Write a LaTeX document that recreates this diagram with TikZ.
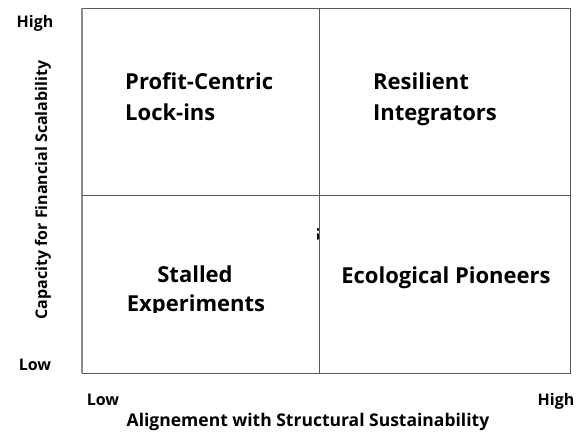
\documentclass[tikz,border=0pt]{standalone}
\usepackage{fontspec}
\setmainfont{Open Sans}[Ligatures=NoCommon]
\begin{document}
\begin{tikzpicture}[x=1pt,y=-1pt,
  quad/.style={font=\bfseries\fontsize{22}{31}\selectfont, inner sep=0pt},
  axlbl/.style={font=\bfseries\fontsize{16}{18}\selectfont, inner sep=0pt},
  axtitle/.style={font=\bfseries\fontsize{17.5}{20}\selectfont, inner sep=0pt},
  ytitle/.style={font=\bfseries\fontsize{16}{18}\selectfont, inner sep=0pt},
  gridline/.style={draw=black!65, line width=0.9pt}]
\useasboundingbox (0,0) rectangle (577,434);
% stray glyph partly hidden behind the vertical divider
\begin{scope}
\clip (317.2,220) rectangle (320.5,245);
\node[quad, anchor=base east] (st) at (321,240) {s};
\end{scope}
% quadrant frame and dividers
\draw[gridline] (82,8) rectangle (570,373);
\draw[draw=black!45, line width=1.6pt] (82,8) -- (82,373);
\coordinate (vt) at (319,8);
\coordinate (vb) at (319,373);
\coordinate (hl) at (82,195);
\coordinate (hr) at (570,195);
\draw[gridline] (vt) -- (vb);
\draw[gridline] (hl) -- (hr);
% quadrant labels
\node[quad, anchor=base west] (plc1) at (125,89) {Profit-Centric};
\node[quad, anchor=base west] (plc2) at (125,120) {Lock-ins};
\node[quad, anchor=base west] (ri1) at (373,89) {Resilient};
\node[quad, anchor=base west] (ri2) at (373,120) {Integrators};
\node[quad, anchor=base] (se1) at (195,282) {Stalled};
\begin{scope}
\clip (100,290) rectangle (300,312.5);
\node[quad, anchor=base] (se2) at (196,311) {Experiments};
\end{scope}
\node[quad, anchor=base] (ep) at (446,283) {Ecological Pioneers};
% axis values
\node[axlbl, anchor=base] (yh) at (35,27) {High};
\node[axlbl, anchor=base] (yl) at (35,370) {Low};
\node[axlbl, anchor=base] (xl) at (103,405) {Low};
\node[axlbl, anchor=base] (xh) at (556,405) {High};
% axis titles
\node[axtitle, anchor=base] (xt) at (308,426) {Alignement with Structural Sustainability};
\node[ytitle, rotate=90, anchor=base] (yt) at (47,190) {Capacity for Financial Scalability};
\end{tikzpicture}
\end{document}
